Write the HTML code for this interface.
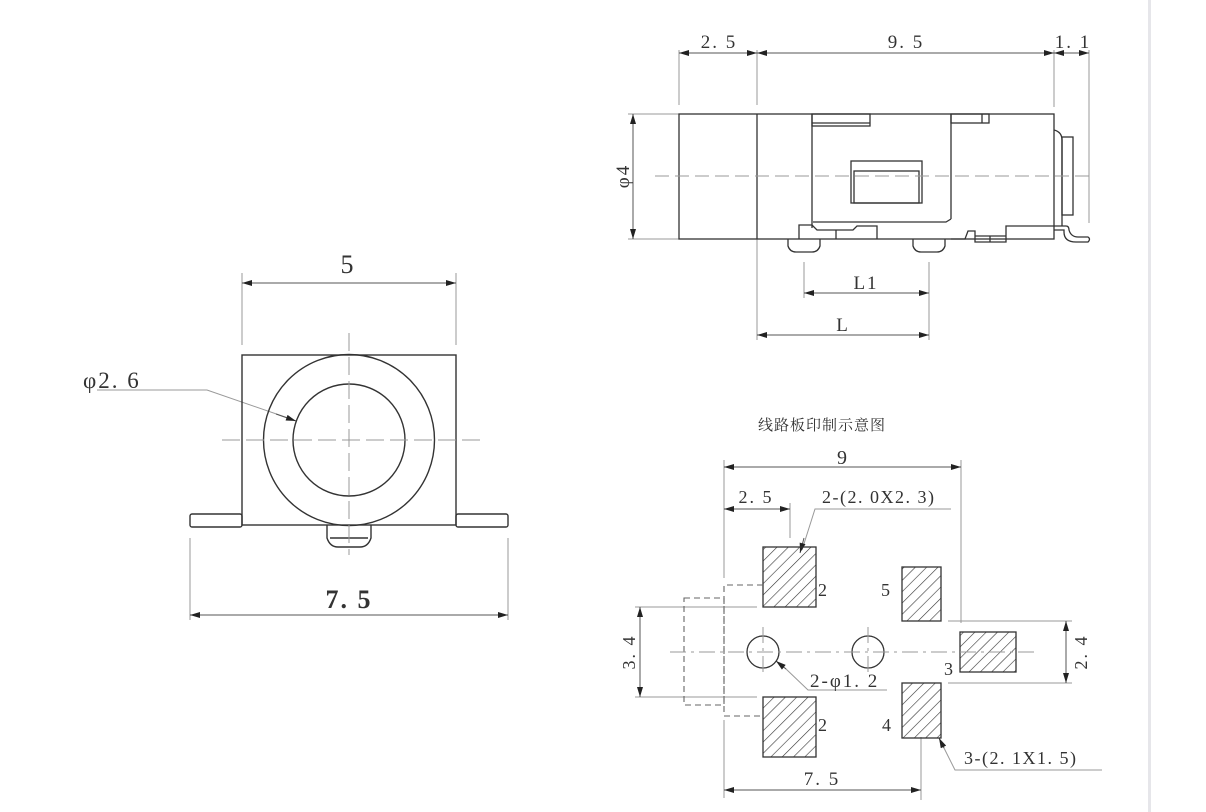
<!DOCTYPE html>
<html><head><meta charset="utf-8"><style>
html,body{margin:0;padding:0;background:#fff;}
svg{display:block;}
text{font-family:"Liberation Serif","Noto Serif CJK SC",serif;fill:#333;}
.n{letter-spacing:2px;}
</style></head><body>
<svg width="1206" height="812" viewBox="0 0 1206 812" xmlns="http://www.w3.org/2000/svg">
<defs>
<marker id="a" viewBox="0 0 10 6" refX="10" refY="3" markerWidth="16" markerHeight="6" orient="auto-start-reverse" markerUnits="userSpaceOnUse"><path d="M0,0 L10,3 L0,6 Z" fill="#222"/></marker>
<pattern id="h" patternUnits="userSpaceOnUse" width="8" height="8" patternTransform="rotate(45)"><line x1="0" y1="0" x2="0" y2="8" stroke="#333" stroke-width="1.2"/></pattern>
</defs>
<rect x="1148" y="0" width="3" height="812" fill="#e6e6ea"/>

<!-- ===== TOP RIGHT SIDE VIEW ===== -->
<g stroke="#999" stroke-width="1" fill="none">
<line x1="679" y1="50" x2="679" y2="105"/><line x1="757" y1="50" x2="757" y2="105"/>
<line x1="1054" y1="50" x2="1054" y2="107"/><line x1="1089" y1="50" x2="1089" y2="223"/>
<line x1="628" y1="114" x2="679" y2="114"/><line x1="628" y1="239" x2="679" y2="239"/>
<line x1="757" y1="239" x2="757" y2="340"/><line x1="804" y1="262" x2="804" y2="298"/><line x1="929" y1="262" x2="929" y2="340"/>
</g>
<g stroke="#555" stroke-width="1" fill="none">
<line x1="679" y1="53" x2="757" y2="53" marker-start="url(#a)" marker-end="url(#a)"/>
<line x1="757" y1="53" x2="1054" y2="53" marker-start="url(#a)" marker-end="url(#a)"/>
<line x1="1054" y1="53" x2="1089" y2="53" marker-start="url(#a)" marker-end="url(#a)"/>
<line x1="633" y1="114" x2="633" y2="239" marker-start="url(#a)" marker-end="url(#a)"/>
<line x1="804" y1="293" x2="929" y2="293" marker-start="url(#a)" marker-end="url(#a)"/>
<line x1="757" y1="335" x2="929" y2="335" marker-start="url(#a)" marker-end="url(#a)"/>
</g>
<g font-size="19" class="n">
<text x="719" y="48" text-anchor="middle">2. 5</text>
<text x="906" y="48" text-anchor="middle">9. 5</text>
<text x="1073" y="48" text-anchor="middle">1. 1</text>
<text x="866" y="289" text-anchor="middle">L1</text>
<text x="843" y="331" text-anchor="middle">L</text>
<text transform="translate(629,176) rotate(-90)" text-anchor="middle">φ4</text>
</g>
<g stroke="#333" stroke-width="1.3" fill="none">
<rect x="679" y="114" width="375" height="125"/>
<line x1="757" y1="114" x2="757" y2="239"/>
<line x1="812" y1="114" x2="812" y2="228"/>
<line x1="951" y1="114" x2="951" y2="219"/>
<path d="M951,219 L946,222 L813,222"/>
<rect x="812" y="114" width="58" height="12"/>
<line x1="812" y1="123" x2="870" y2="123"/>
<rect x="951" y="114" width="38" height="9"/><line x1="982" y1="114" x2="982" y2="123"/>
<rect x="851" y="161" width="71" height="42"/>
<rect x="854" y="171" width="65" height="32"/>
<path d="M799,239 L799,225 L812,225 L817,230 L853,230 L857,226 L877,226 L877,239"/>
<line x1="836" y1="230" x2="836" y2="239"/>
<path d="M788,239 L788,246 Q790,252 796,252 L812,252 Q818,252 820,246 L820,239"/>
<path d="M913,239 L913,246 Q915,252 921,252 L937,252 Q943,252 945,246 L945,239"/>
<path d="M951,239 L965,239 L968,231 L975,231 L975,242 L1006,242 L1006,226 L1054,226"/>
<line x1="975" y1="236" x2="1006" y2="236"/><line x1="990" y1="236" x2="990" y2="242"/>
<path d="M1054,130 Q1062,132 1062,140 L1062,226"/>
<rect x="1062" y="137" width="11" height="78"/>
<path d="M1054,226 L1066,226 Q1069,226 1069,230 Q1071,237 1078,237 L1088,237 Q1091,239 1088,242 L1076,242 Q1064,242 1064,232 L1064,230 L1054,230"/>
</g>
<line x1="655" y1="176" x2="1092" y2="176" stroke="#999" stroke-width="1" stroke-dasharray="14,6"/>

<!-- ===== LEFT FRONT VIEW ===== -->
<g stroke="#999" stroke-width="1" fill="none">
<line x1="242" y1="273" x2="242" y2="345"/><line x1="456" y1="273" x2="456" y2="345"/>
<line x1="190" y1="538" x2="190" y2="620"/><line x1="508" y1="538" x2="508" y2="620"/>
<path d="M97,390 L207,390 L288,418"/>
</g>
<g stroke="#555" stroke-width="1" fill="none">
<line x1="242" y1="283" x2="456" y2="283" marker-start="url(#a)" marker-end="url(#a)"/>
<line x1="190" y1="615" x2="508" y2="615" marker-start="url(#a)" marker-end="url(#a)"/>
<line x1="276" y1="414" x2="296" y2="421" marker-end="url(#a)"/>
</g>
<g stroke="#333" stroke-width="1.4" fill="none">
<rect x="242" y="355" width="214" height="170"/>
<circle cx="349" cy="440" r="85.5"/>
<circle cx="349" cy="440" r="56"/>
<rect x="190" y="514" width="52" height="13" rx="2"/>
<rect x="456" y="514" width="52" height="13" rx="2"/>
<path d="M327,525 L327,538 Q330,547 338,547 L360,547 Q368,547 371,538 L371,525"/>
<line x1="330" y1="538" x2="368" y2="538"/>
</g>
<g stroke="#999" stroke-width="1" stroke-dasharray="18,6">
<line x1="222" y1="440" x2="482" y2="440"/><line x1="349" y1="333" x2="349" y2="555"/>
</g>
<text x="347" y="273" font-size="26" text-anchor="middle">5</text>
<text x="349" y="608" font-size="26" text-anchor="middle" font-weight="bold" class="n">7. 5</text>
<text x="83" y="388" font-size="23" class="n">φ2. 6</text>

<!-- ===== BOTTOM RIGHT PCB ===== -->
<text x="822" y="430" font-size="15" text-anchor="middle" letter-spacing="1">线路板印制示意图</text>
<g stroke="#999" stroke-width="1" fill="none">
<line x1="724" y1="460" x2="724" y2="578"/><line x1="724" y1="720" x2="724" y2="798"/>
<line x1="961" y1="460" x2="961" y2="623"/>
<line x1="790" y1="503" x2="790" y2="538"/>
<line x1="921" y1="737" x2="921" y2="800"/>
<line x1="635" y1="607" x2="757" y2="607"/><line x1="635" y1="697" x2="757" y2="697"/>
<line x1="948" y1="621" x2="1072" y2="621"/><line x1="948" y1="683" x2="1072" y2="683"/>
<path d="M951,509 L815,509 L802,550"/>
<path d="M785,668 L808,690 L887,690"/>
<path d="M940,740 L955,770 L1102,770"/>
</g>
<g stroke="#555" stroke-width="1" fill="none">
<line x1="724" y1="467" x2="961" y2="467" marker-start="url(#a)" marker-end="url(#a)"/>
<line x1="724" y1="509" x2="790" y2="509" marker-start="url(#a)" marker-end="url(#a)"/>
<line x1="724" y1="790" x2="921" y2="790" marker-start="url(#a)" marker-end="url(#a)"/>
<line x1="640" y1="607" x2="640" y2="697" marker-start="url(#a)" marker-end="url(#a)"/>
<line x1="1066" y1="621" x2="1066" y2="683" marker-start="url(#a)" marker-end="url(#a)"/>
<line x1="804" y1="538" x2="800" y2="553" marker-end="url(#a)"/>
<line x1="786" y1="669" x2="776" y2="661" marker-end="url(#a)"/>
<line x1="944" y1="748" x2="939" y2="738" marker-end="url(#a)"/>
</g>
<g stroke="#333" stroke-width="1.3" fill="url(#h)">
<rect x="763" y="547" width="53" height="60"/>
<rect x="763" y="697" width="53" height="60"/>
<rect x="902" y="567" width="39" height="54"/>
<rect x="902" y="683" width="39" height="55"/>
<rect x="960" y="632" width="56" height="40"/>
</g>
<g stroke="#333" stroke-width="1.3" fill="none">
<circle cx="763" cy="652" r="16"/><circle cx="868" cy="652" r="16"/>
</g>
<g stroke="#666" stroke-width="1.1" fill="none" stroke-dasharray="6,4">
<rect x="684" y="598" width="40" height="107"/>
<path d="M763,585 L724,585 L724,716 L763,716"/>
</g>
<g stroke="#999" stroke-width="1" stroke-dasharray="16,5,3,5">
<line x1="670" y1="652" x2="1035" y2="652"/>
<line x1="763" y1="627" x2="763" y2="677"/><line x1="868" y1="627" x2="868" y2="677"/>
</g>
<g font-size="18" class="n">
<text x="843" y="464" text-anchor="middle" font-size="20">9</text>
<text x="756" y="503" text-anchor="middle">2. 5</text>
<text x="822" y="503" letter-spacing="1.5">2-(2. 0X2. 3)</text>
<text x="818" y="596">2</text><text x="818" y="731">2</text>
<text x="881" y="596">5</text><text x="882" y="731">4</text>
<text x="944" y="675">3</text>
<text x="810" y="687" font-size="19">2-φ1. 2</text>
<text x="964" y="764" letter-spacing="1.5">3-(2. 1X1. 5)</text>
<text x="822" y="785" text-anchor="middle" font-size="19">7. 5</text>
<text transform="translate(635,652) rotate(-90)" text-anchor="middle">3. 4</text>
<text transform="translate(1087,652) rotate(-90)" text-anchor="middle">2. 4</text>
</g>
</svg>
</body></html>
